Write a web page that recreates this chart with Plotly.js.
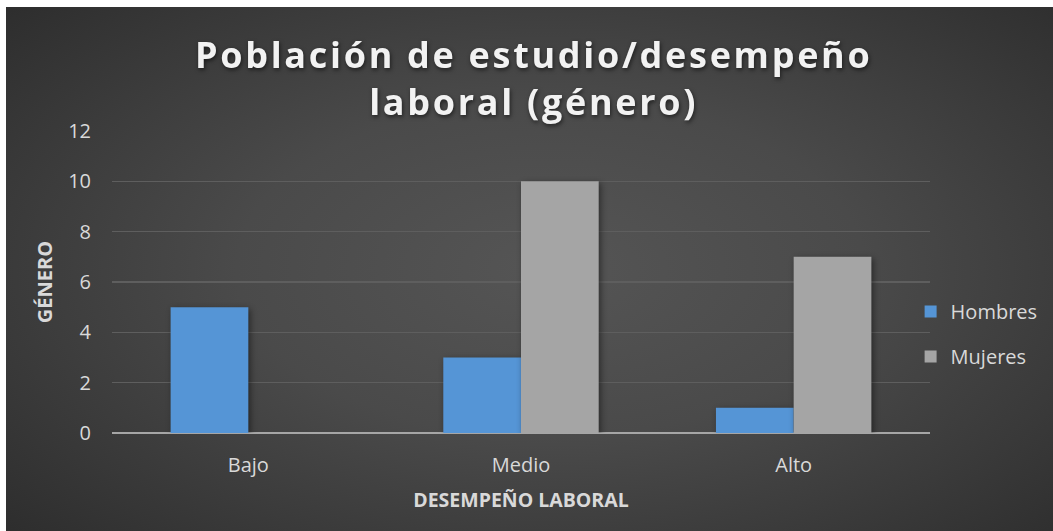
<!DOCTYPE html>
<html>
<head>
<meta charset="utf-8">
<script src="https://cdn.plot.ly/plotly-3.0.1.min.js"></script>
<style>
  html, body { margin: 0; padding: 0; background: #ffffff; }
  #chart {
    position: absolute; left: 6px; top: 7px; width: 1047px; height: 524px;
    background: radial-gradient(ellipse 75% 80% at 52% 50%, #555555 0%, #4a4a4a 40%, #2a2a2a 100%);
  }
  #chart .gtitle { letter-spacing: 2.7px; filter: drop-shadow(1px 2px 2px rgba(0,0,0,0.55)); }
  #chart .trace.bars .point path { filter: drop-shadow(2px 2px 3px rgba(0,0,0,0.45)); }
</style>
</head>
<body>
<div id="chart"></div>
<script>
const categories = ['Bajo', 'Medio', 'Alto'];
const hombres = [5, 3, 1];
const mujeres = [0, 10, 7];
const seriesNames = ['Hombres', 'Mujeres'];
const yTicks = [0, 2, 4, 6, 8, 10, 12];

const data = [
  { type: 'bar', name: seriesNames[0], x: categories, y: hombres, legendgroup: 'h',
    marker: { color: '#5595d6', line: { width: 0 } }, hoverinfo: 'skip' },
  { type: 'bar', name: seriesNames[1], x: categories, y: mujeres, legendgroup: 'm',
    marker: { color: '#a5a5a5', line: { width: 0 } }, hoverinfo: 'skip' }
];

const layout = {
  width: 1047, height: 524,
  paper_bgcolor: 'rgba(0,0,0,0)', plot_bgcolor: 'rgba(0,0,0,0)',
  margin: { l: 105.5, r: 122.5, t: 124, b: 98, autoexpand: false },
  barmode: 'group', bargap: 0.43, bargroupgap: 0,
  font: { family: 'Open Sans, sans-serif', color: '#d9d9d9', size: 20 },
  title: {
    text: 'Población de estudio/desempeño<br>laboral (género)',
    font: { family: 'Open Sans, sans-serif', size: 36, color: '#f2f2f2', weight: 'bold' },
    xref: 'container', x: 0.504, xanchor: 'center',
    yref: 'container', y: 0.884, yanchor: 'top'
  },
  xaxis: {
    type: 'category', showgrid: false, zeroline: false, showline: false, ticks: '',
    ticklabelstandoff: 18,
    tickfont: { size: 20, color: '#d9d9d9' },
    title: { text: 'DESEMPEÑO LABORAL', font: { size: 19.5, color: '#d9d9d9', weight: 'bold' }, standoff: 16 }
  },
  yaxis: {
    range: [0, 12], tickvals: yTicks, ticktext: yTicks.map(String),
    showgrid: true, gridcolor: '#5e5e5e', gridwidth: 1.5,
    zeroline: true, zerolinecolor: '#a6a6a6', zerolinewidth: 2,
    showline: false, ticks: '', ticklabelstandoff: 20,
    tickfont: { size: 20, color: '#d9d9d9' },
    title: { text: 'GÉNERO', font: { size: 20, color: '#d9d9d9', weight: 'bold' }, standoff: 10 }
  },
  legend: {
    xref: 'container', x: 0.864, xanchor: 'left',
    yref: 'paper', y: 0.328, yanchor: 'middle',
    font: { size: 20, color: '#d9d9d9' }, tracegroupgap: 16,
    bgcolor: 'rgba(0,0,0,0)', itemwidth: 30
  },
  showlegend: true
};

Plotly.newPlot('chart', data, layout, { staticPlot: true, displayModeBar: false });
</script>
</body>
</html>
